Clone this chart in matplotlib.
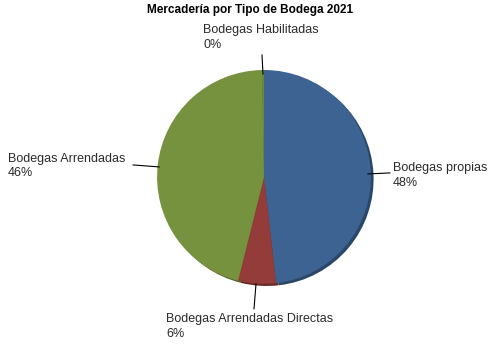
import matplotlib.pyplot as plt

# Mercaderia por tipo de bodega
categorias = ["Bodegas propias", "Bodegas Arrendadas Directas", "Bodegas Arrendadas", "Bodegas Habilitadas"]
valores = [48.2, 5.7, 45.8, 0.3]
etiquetas = ["48%", "6%", "46%", "0%"]
colores = ["#3C6391", "#943C3A", "#77923F", "#6E8A38"]
sombras = ["#2A4668", "#6A2A28", "#55692C", "#4E6328"]

plt.rcParams["font.family"] = ["Liberation Sans", "DejaVu Sans"]

fig = plt.figure(figsize=(5, 3.5), dpi=100)
fig.text(0.5, 0.99, "Mercadería por Tipo de Bodega 2021", ha="center", va="top",
         fontsize=8.5, fontweight="bold", color="black")

ax = fig.add_axes([0.314, 0.189, 0.428, 0.611])

# sombra / borde 3D
ax.pie(valores, colors=sombras, startangle=90, counterclock=False, radius=1.0,
       center=(0.025, -0.02), wedgeprops={"linewidth": 0})
ax.pie(valores, colors=colores, startangle=90, counterclock=False, radius=1.0,
       wedgeprops={"linewidth": 0})

ax.set_xlim(-1, 1)
ax.set_ylim(-1, 1)
ax.set_aspect("equal")

# etiquetas con lineas guia (coordenadas en pixeles convertidas a datos)
def px(x, y):
    return ((x - 264) / 107.0, (177 - y) / 107.0)

lineas = [
    (px(368, 174), px(390, 173)),
    (px(256, 284), px(254, 309)),
    (px(159, 167), px(133, 165)),
    (px(263, 74), px(262, 55)),
]
posiciones = [px(393, 175.5), px(166, 313), px(8, 166), px(203, 51)]
alineado = [("left", "center"), ("left", "top"), ("left", "center"), ("left", "bottom")]

for i in range(len(categorias)):
    p0, p1 = lineas[i]
    ax.plot([p0[0], p1[0]], [p0[1], p1[1]], color="black", linewidth=0.8, clip_on=False)
    ax.text(posiciones[i][0], posiciones[i][1], categorias[i] + "\n" + etiquetas[i],
            ha=alineado[i][0], va=alineado[i][1], fontsize=9, color="#2b2b2b",
            linespacing=1.3, clip_on=False)

plt.savefig("out.png", dpi=100)
